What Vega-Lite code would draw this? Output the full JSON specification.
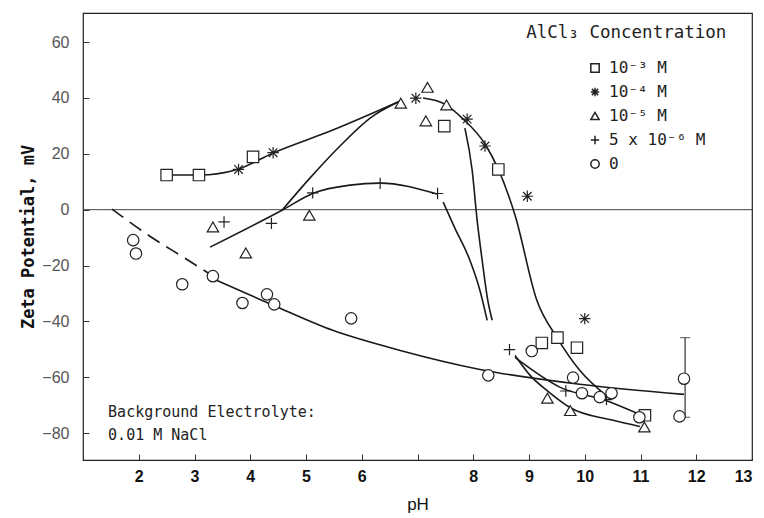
{
  "$schema": "https://vega.github.io/schema/vega-lite/v6.json",
  "width": 669,
  "height": 447,
  "autosize": {"type": "none"},
  "padding": {"left": 83, "top": 13, "right": 12, "bottom": 58},
  "background": "white",
  "config": {
    "view": {"stroke": "#222", "strokeWidth": 1.2},
    "axis": {"grid": false, "domain": false, "tickColor": "#333", "tickWidth": 1}
  },
  "datasets": {
    "pts": [
      {"s": "10⁻³ M", "pH": 2.50, "zp": 12.4},
      {"s": "10⁻³ M", "pH": 3.08, "zp": 12.4},
      {"s": "10⁻³ M", "pH": 4.05, "zp": 18.9},
      {"s": "10⁻³ M", "pH": 7.48, "zp": 29.9},
      {"s": "10⁻³ M", "pH": 8.45, "zp": 14.4},
      {"s": "10⁻³ M", "pH": 9.23, "zp": -47.7},
      {"s": "10⁻³ M", "pH": 9.51, "zp": -45.8},
      {"s": "10⁻³ M", "pH": 9.86, "zp": -49.4},
      {"s": "10⁻³ M", "pH": 11.08, "zp": -73.6},
      {"s": "10⁻⁴ M", "pH": 3.79, "zp": 14.4},
      {"s": "10⁻⁴ M", "pH": 4.41, "zp": 20.4},
      {"s": "10⁻⁴ M", "pH": 6.97, "zp": 39.9},
      {"s": "10⁻⁴ M", "pH": 7.89, "zp": 32.4},
      {"s": "10⁻⁴ M", "pH": 8.21, "zp": 22.8},
      {"s": "10⁻⁴ M", "pH": 8.97, "zp": 4.8},
      {"s": "10⁻⁴ M", "pH": 10.00, "zp": -39.0},
      {"s": "10⁻⁵ M", "pH": 3.33, "zp": -6.2},
      {"s": "10⁻⁵ M", "pH": 3.92, "zp": -15.5},
      {"s": "10⁻⁵ M", "pH": 5.06, "zp": -2.0},
      {"s": "10⁻⁵ M", "pH": 6.70, "zp": 38.1},
      {"s": "10⁻⁵ M", "pH": 7.15, "zp": 31.8},
      {"s": "10⁻⁵ M", "pH": 7.18, "zp": 43.8},
      {"s": "10⁻⁵ M", "pH": 7.52, "zp": 37.5},
      {"s": "10⁻⁵ M", "pH": 9.33, "zp": -67.5},
      {"s": "10⁻⁵ M", "pH": 9.74, "zp": -71.9},
      {"s": "10⁻⁵ M", "pH": 11.07, "zp": -77.8},
      {"s": "5 x 10⁻⁶ M", "pH": 3.53, "zp": -4.4},
      {"s": "5 x 10⁻⁶ M", "pH": 4.38, "zp": -4.9},
      {"s": "5 x 10⁻⁶ M", "pH": 5.12, "zp": 6.0},
      {"s": "5 x 10⁻⁶ M", "pH": 6.33, "zp": 9.4},
      {"s": "5 x 10⁻⁶ M", "pH": 7.36, "zp": 5.8},
      {"s": "5 x 10⁻⁶ M", "pH": 8.65, "zp": -50.1},
      {"s": "5 x 10⁻⁶ M", "pH": 9.66, "zp": -64.9},
      {"s": "5 x 10⁻⁶ M", "pH": 10.39, "zp": -68.0},
      {"s": "0", "pH": 1.90, "zp": -10.9},
      {"s": "0", "pH": 1.95, "zp": -15.7},
      {"s": "0", "pH": 2.78, "zp": -26.7},
      {"s": "0", "pH": 3.33, "zp": -23.8},
      {"s": "0", "pH": 3.86, "zp": -33.4},
      {"s": "0", "pH": 4.30, "zp": -30.3},
      {"s": "0", "pH": 4.43, "zp": -33.9},
      {"s": "0", "pH": 5.81, "zp": -38.9},
      {"s": "0", "pH": 8.27, "zp": -59.3},
      {"s": "0", "pH": 9.05, "zp": -50.6},
      {"s": "0", "pH": 9.79, "zp": -60.1},
      {"s": "0", "pH": 9.95, "zp": -65.7},
      {"s": "0", "pH": 10.27, "zp": -67.1},
      {"s": "0", "pH": 10.48, "zp": -65.7},
      {"s": "0", "pH": 10.98, "zp": -74.3},
      {"s": "0", "pH": 11.78, "zp": -60.5},
      {"s": "0", "pH": 11.70, "zp": -74.0}
    ],
    "curves": [
      {"c": "A", "o": 1, "pH": 2.51, "zp": 12.4},
      {"c": "A", "o": 2, "pH": 3.08, "zp": 12.4},
      {"c": "A", "o": 3, "pH": 3.78, "zp": 14.5},
      {"c": "A", "o": 4, "pH": 4.41, "zp": 20.3},
      {"c": "A", "o": 5, "pH": 5.48, "zp": 28.5},
      {"c": "A", "o": 6, "pH": 6.69, "zp": 38.9},
      {"c": "A2", "o": 1, "pH": 7.10, "zp": 40.0},
      {"c": "A2", "o": 2, "pH": 7.49, "zp": 37.8},
      {"c": "A2", "o": 3, "pH": 7.80, "zp": 32.8},
      {"c": "A2", "o": 4, "pH": 8.21, "zp": 23.5},
      {"c": "A2", "o": 5, "pH": 8.44, "zp": 14.9},
      {"c": "A2", "o": 6, "pH": 8.75, "zp": -2.0},
      {"c": "A2", "o": 7, "pH": 9.14, "zp": -32.4},
      {"c": "A2", "o": 8, "pH": 9.50, "zp": -45.7},
      {"c": "A2", "o": 9, "pH": 9.91, "zp": -57.5},
      {"c": "A2", "o": 10, "pH": 10.40, "zp": -66.8},
      {"c": "B", "o": 1, "pH": 4.57, "zp": -0.2},
      {"c": "B", "o": 2, "pH": 5.07, "zp": 11.3},
      {"c": "B", "o": 3, "pH": 5.61, "zp": 22.8},
      {"c": "B", "o": 4, "pH": 6.15, "zp": 32.8},
      {"c": "B", "o": 5, "pH": 6.69, "zp": 38.9},
      {"c": "C", "o": 1, "pH": 7.85, "zp": 29.2},
      {"c": "C", "o": 2, "pH": 7.98, "zp": 14.2},
      {"c": "C", "o": 3, "pH": 8.07, "zp": -3.8},
      {"c": "C", "o": 4, "pH": 8.16, "zp": -18.1},
      {"c": "C", "o": 5, "pH": 8.26, "zp": -32.4},
      {"c": "C", "o": 6, "pH": 8.34, "zp": -39.6},
      {"c": "D", "o": 1, "pH": 3.28, "zp": -13.4},
      {"c": "D", "o": 2, "pH": 4.57, "zp": -0.2},
      {"c": "D", "o": 3, "pH": 5.13, "zp": 5.9},
      {"c": "D", "o": 4, "pH": 5.79, "zp": 8.8},
      {"c": "D", "o": 5, "pH": 6.33, "zp": 9.5},
      {"c": "D", "o": 6, "pH": 7.35, "zp": 5.6},
      {"c": "D2", "o": 1, "pH": 7.46, "zp": 2.7},
      {"c": "D2", "o": 2, "pH": 7.67, "zp": -6.6},
      {"c": "D2", "o": 3, "pH": 7.94, "zp": -18.1},
      {"c": "D2", "o": 4, "pH": 8.12, "zp": -28.9},
      {"c": "D2", "o": 5, "pH": 8.25, "zp": -39.6},
      {"c": "E", "o": 1, "pH": 8.75, "zp": -52.2},
      {"c": "E", "o": 2, "pH": 9.02, "zp": -59.3},
      {"c": "E", "o": 3, "pH": 9.32, "zp": -64.7},
      {"c": "E", "o": 4, "pH": 9.74, "zp": -70.9},
      {"c": "E", "o": 5, "pH": 10.51, "zp": -75.4},
      {"c": "E", "o": 6, "pH": 10.99, "zp": -77.6},
      {"c": "F", "o": 1, "pH": 8.75, "zp": -52.9},
      {"c": "F", "o": 2, "pH": 9.56, "zp": -63.6},
      {"c": "F", "o": 3, "pH": 10.38, "zp": -68.3},
      {"c": "F", "o": 4, "pH": 10.94, "zp": -72.9},
      {"c": "H", "o": 1, "pH": 3.40, "zp": -25.3},
      {"c": "H", "o": 2, "pH": 4.41, "zp": -34.2},
      {"c": "H", "o": 3, "pH": 5.48, "zp": -43.2},
      {"c": "H", "o": 4, "pH": 6.69, "zp": -50.4},
      {"c": "H", "o": 5, "pH": 8.12, "zp": -57.2},
      {"c": "H", "o": 6, "pH": 9.91, "zp": -62.5},
      {"c": "H", "o": 7, "pH": 11.78, "zp": -66.1}
    ],
    "dashed": [
      {"o": 1, "pH": 1.52, "zp": 0.2},
      {"o": 2, "pH": 2.20, "zp": -9.5},
      {"o": 3, "pH": 2.83, "zp": -17.4},
      {"o": 4, "pH": 3.28, "zp": -23.1}
    ],
    "err": [
      {"pH": 11.80, "lo": -74.3, "hi": -45.8}
    ],
    "notes": [
      {"t": ["Background Electrolyte:", "0.01 M NaCl"], "pH": 1.45, "zp": -72.5, "k": "bg"},
      {"t": ["AlCl₃ Concentration"], "pH": 8.95, "zp": 63.3, "k": "lt"}
    ]
  },
  "layer": [
    {
      "data": {"values": [{"z": 0}]},
      "mark": {"type": "rule", "color": "#444", "strokeWidth": 1},
      "encoding": {"y": {"field": "z", "type": "quantitative"}}
    },
    {
      "data": {"name": "curves"},
      "mark": {"type": "line", "interpolate": "monotone", "color": "#1a1a1a", "strokeWidth": 1.6},
      "encoding": {
        "x": {"field": "pH", "type": "quantitative", "scale": {"domain": [1, 13], "nice": false, "zero": false},
          "axis": {"title": "pH", "values": [2,3,4,5,6,7,8,9,10,11,12,13], "format": "d", "labelExpr": "datum.value == 7 ? '' : datum.label",
            "tickSize": -6, "labelPadding": 14, "labelFont": "Liberation Sans", "labelFontWeight": "bold", "labelFontSize": 16, "labelColor": "#111",
            "titleFont": "Liberation Sans", "titleFontSize": 17, "titleFontWeight": "normal", "titleColor": "#111", "titlePadding": 12}},
        "y": {"field": "zp", "type": "quantitative", "scale": {"domain": [-89.6, 70.4], "nice": false, "zero": false},
          "axis": {"title": "Zeta Potential, mV", "values": [-80,-60,-40,-20,0,20,40,60],
            "tickSize": -6, "labelPadding": 20, "labelFont": "Liberation Sans", "labelFontSize": 16, "labelColor": "#555",
            "titleFont": "DejaVu Sans Mono", "titleFontSize": 17, "titleFontWeight": "bold", "titleColor": "#111", "titlePadding": 4}},
        "detail": {"field": "c"},
        "order": {"field": "o"}
      }
    },
    {
      "data": {"name": "dashed"},
      "mark": {"type": "line", "color": "#1a1a1a", "strokeWidth": 1.6, "strokeDash": [14, 8], "interpolate": "monotone"},
      "encoding": {"x": {"field": "pH", "type": "quantitative"}, "y": {"field": "zp", "type": "quantitative"}, "order": {"field": "o"}}
    },
    {
      "data": {"name": "err"},
      "mark": {"type": "rule", "color": "#333", "strokeWidth": 1.2},
      "encoding": {"x": {"field": "pH", "type": "quantitative"}, "y": {"field": "lo", "type": "quantitative"}, "y2": {"field": "hi"}}
    },
    {
      "data": {"name": "err"},
      "mark": {"type": "tick", "orient": "horizontal", "color": "#333", "size": 10, "thickness": 1.2},
      "encoding": {"x": {"field": "pH", "type": "quantitative"}, "y": {"field": "hi", "type": "quantitative"}}
    },
    {
      "data": {"name": "err"},
      "mark": {"type": "tick", "orient": "horizontal", "color": "#333", "size": 10, "thickness": 1.2},
      "encoding": {"x": {"field": "pH", "type": "quantitative"}, "y": {"field": "lo", "type": "quantitative"}}
    },
    {
      "data": {"name": "pts"},
      "mark": {"type": "point", "filled": false, "fill": "white", "fillOpacity": 1, "stroke": "#222", "strokeWidth": 1.2, "opacity": 1},
      "encoding": {
        "x": {"field": "pH", "type": "quantitative"},
        "y": {"field": "zp", "type": "quantitative"},
        "shape": {"field": "s", "type": "nominal",
          "scale": {"domain": ["10⁻³ M", "10⁻⁴ M", "10⁻⁵ M", "5 x 10⁻⁶ M", "0"],
            "range": ["square", "M-1,0L1,0M0,-1L0,1M-0.75,-0.75L0.75,0.75M-0.75,0.75L0.75,-0.75", "triangle-up", "M-1,0L1,0M0,-1L0,1", "circle"]},
          "legend": {"title": null, "orient": "none", "legendX": 504, "legendY": 47,
            "labelFont": "DejaVu Sans Mono", "labelFontSize": 16, "labelColor": "#222", "symbolSize": 70, "rowPadding": 8, "labelOffset": 6,
            "encode": {"symbols": {"update": {"stroke": {"value": "#222"}, "fill": {"value": "white"}, "strokeWidth": {"value": 1.1}, "opacity": {"value": 1}}}}}},
        "size": {"value": 130}
      }
    },
    {
      "data": {"name": "notes"},
      "mark": {"type": "text", "align": "left", "baseline": "middle", "font": "DejaVu Sans Mono", "fontSize": 15, "color": "#222", "lineHeight": 23},
      "encoding": {"x": {"field": "pH", "type": "quantitative"}, "y": {"field": "zp", "type": "quantitative"}, "text": {"field": "t"},
        "size": {"condition": {"test": "datum.k == 'lt'", "value": 17.5}, "value": 15}}
    }
  ]
}
